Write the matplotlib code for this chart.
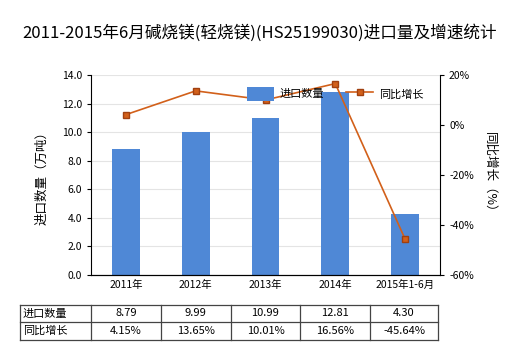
import numpy as np
import matplotlib.pyplot as plt
from matplotlib.ticker import FuncFormatter

plt.rcParams['font.family'] = ['Noto Sans CJK SC', 'DejaVu Sans']

# data
years = ['2011年', '2012年', '2013年', '2014年', '2015年1-6月']
qty = [8.79, 9.99, 10.99, 12.81, 4.30]
growth = [4.15, 13.65, 10.01, 16.56, -45.64]
title = '2011-2015年6月碱烧镁(轻烧镁)(HS25199030)进口量及增速统计'

bar_color = '#4f88d6'
line_color = '#d2601a'

W, H = 520, 350
fig = plt.figure(figsize=(W / 100, H / 100), dpi=100)
x0, x1, ytop, ybot = 91, 440, 75, 275
ax = fig.add_axes([x0 / W, 1 - ybot / H, (x1 - x0) / W, (ybot - ytop) / H])

x = np.arange(len(years))
ax.bar(x, qty, width=0.4, color=bar_color, zorder=2, label='进口数量')
ax.set_xlim(-0.5, len(years) - 0.5)
ax.set_ylim(0, 14)
ax.set_yticks(np.arange(0, 14.1, 2))
ax.yaxis.set_major_formatter(FuncFormatter(lambda v, p: f'{v:.1f}'))
ax.grid(axis='y', color='#e4e4e4', lw=0.8, zorder=0)
ax.set_xticks(x)
ax.set_xticklabels(years)
ax.tick_params(labelsize=7.5, length=3, width=0.8)
ax.tick_params(axis='x', length=0)
for s in ['top', 'right']:
    ax.spines[s].set_visible(False)
ax.set_ylabel('进口数量（万吨）', fontsize=9, labelpad=10)

ax2 = ax.twinx()
ax2.plot(x, growth, color=line_color, lw=1.2, marker='s', markersize=4,
         markerfacecolor=line_color, markeredgecolor='#a04010', label='同比增长', zorder=3)
ax2.set_ylim(-60, 20)
ax2.set_yticks(np.arange(-60, 21, 20))
ax2.yaxis.set_major_formatter(FuncFormatter(lambda v, p: f'{v:.0f}%'))
ax2.tick_params(labelsize=7.5, length=3, width=0.8)
for s in ['top', 'left']:
    ax2.spines[s].set_visible(False)
ax2.set_ylabel('同比增长（%）', fontsize=9, rotation=-90, labelpad=16)

h1, l1 = ax.get_legend_handles_labels()
h2, l2 = ax2.get_legend_handles_labels()
ax2.legend(h1 + h2, l1 + l2, loc='upper center', bbox_to_anchor=(0.7, 0.99), ncol=2,
           frameon=False, fontsize=8, handlelength=2.4, handleheight=1.5,
           handletextpad=0.5, columnspacing=2.0)

fig.text(0.5, 1 - 33 / H, title, ha='center', va='center', fontsize=12)

# table below
tbl_left, tbl_right = 20, 438
row_tops = [305, 322, 340]
col_edges = [tbl_left] + [x0 + i * (x1 - x0) / len(years) for i in range(len(years) + 1)]
col_edges[-1] = tbl_right
rows = [('进口数量', [f'{v:.2f}' for v in qty]),
        ('同比增长', [f'{v:.2f}%' for v in growth])]
for r, (label, vals) in enumerate(rows):
    yc = 1 - (row_tops[r] + row_tops[r + 1]) / 2 / H
    fig.text((tbl_left + 3) / W, yc, label, ha='left', va='center', fontsize=8)
    for i, v in enumerate(vals):
        xc = (col_edges[i + 1] + col_edges[i + 2]) / 2 / W
        fig.text(xc, yc, v, ha='center', va='center', fontsize=8)
for yy in row_tops:
    fig.add_artist(plt.Line2D([tbl_left / W, tbl_right / W], [1 - yy / H] * 2,
                              color='#444444', lw=0.9))
for xx in col_edges:
    fig.add_artist(plt.Line2D([xx / W] * 2, [1 - row_tops[0] / H, 1 - row_tops[-1] / H],
                              color='#444444', lw=0.9))

plt.savefig('out.png', dpi=100)
